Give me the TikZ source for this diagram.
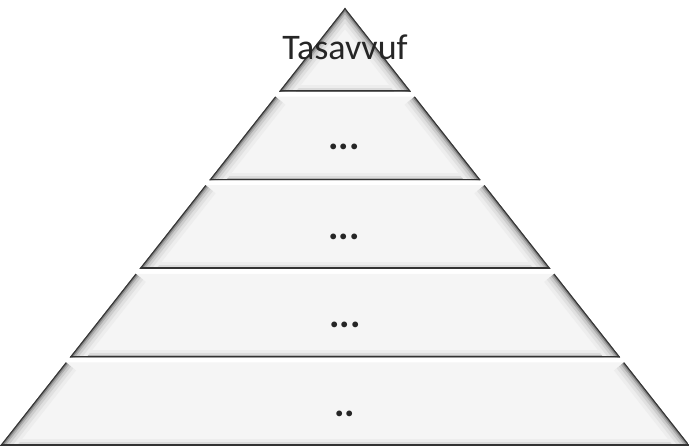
\documentclass[tikz,border=0pt]{standalone}
\usepackage{fontspec}
\setmainfont{Carlito}
\begin{document}
\begin{tikzpicture}[x=1pt,y=-1pt,
  lab/.style={font=\fontsize{36}{36}\selectfont, text=black!85, inner sep=0pt, anchor=base},
  dots/.style={lab, font=\fontsize{39}{39}\selectfont\bfseries}]
\useasboundingbox (0,0) rectangle (689,446);
% layers of the pyramid, apex (345,8), base 0..689
\foreach \t/\b in {8/91.6, 96.6/180.2, 185.2/268.8, 273.8/357.4, 362.4/446}{
  \pgfmathsetmacro\wt{0.78767*(\t-8)}
  \pgfmathsetmacro\wb{0.78767*(\b-8)}
  \begin{scope}
    \clip (345-\wt,\t) -- (345-\wb,\b) -- (345+\wb,\b) -- (345+\wt,\t) -- cycle;
    \fill[black!4] (345-\wt,\t) -- (345-\wb,\b) -- (345+\wb,\b) -- (345+\wt,\t) -- cycle;
    % soft shadow along bottom
    \foreach \lw/\c in {14/black!7, 8/black!14, 4/black!30}
      \draw[line width=\lw pt, \c] (0,\b) -- (689,\b);
    % soft shadow along the sloped sides
    \foreach \lw/\c in {26/black!7, 19/black!12, 13/black!20, 8/black!32, 4.5/black!50, 2/black!80}{
      \draw[line width=\lw pt, \c] (345-\wt,\t) -- (345-\wb,\b);
      \draw[line width=\lw pt, \c] (345+\wt,\t) -- (345+\wb,\b);
    }
    \draw[line width=3pt, black!80] (0,\b) -- (689,\b);
  \end{scope}
}
\node[lab] (top) at (345,60) {Tasavvuf};
\node[dots] (l2) at (344,150) {...};
\node[dots] (l3) at (344,240) {...};
\node[dots] (l4) at (345,328) {...};
\node[dots] (l5) at (345,417) {..};
\end{tikzpicture}
\end{document}
